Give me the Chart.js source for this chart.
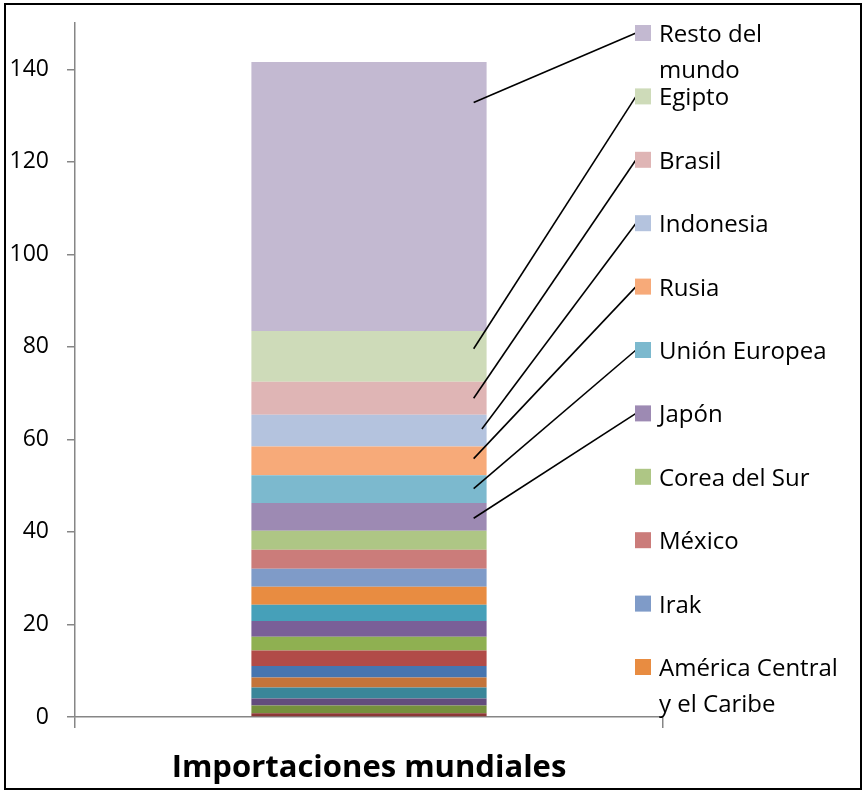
<!DOCTYPE html>
<html>
<head>
<meta charset="utf-8">
<script src="https://cdn.jsdelivr.net/npm/chart.js@4/dist/chart.umd.min.js"></script>
<style>
  body { margin: 0; background: #fff; }
  #wrap { width: 865px; height: 793px; }
</style>
</head>
<body>
<div id="wrap"><canvas id="chart" width="865" height="793"></canvas></div>
<script>
// Category on the x axis
const categories = ["Importaciones mundiales"];

// Stacked series, bottom to top
const seriesNames = [
  "Yemen", "Bangladesh", "Turquía", "Arabia Saudita", "China",
  "Irán", "Nigeria", "Filipinas", "Marruecos", "Argelia",
  "América Central y el Caribe", "Irak", "México", "Corea del Sur", "Japón",
  "Unión Europea", "Rusia", "Indonesia", "Brasil", "Egipto", "Resto del mundo"
];
const seriesValues = [
  0.8, 1.7, 1.5, 2.4, 2.15,
  2.5, 3.3, 3.0, 3.4, 3.5,
  3.9, 3.9, 4.1, 4.1, 6.0,
  6.0, 6.2, 6.9, 7.1, 11.0, 58.1
];
const seriesColors = [
  "#8C3836", "#76903D", "#634C7D", "#3A8699", "#C3743A",
  "#4675B0", "#B14B48", "#8FB051", "#7A5F98", "#46A0B9",
  "#E88C41", "#7F9BC8", "#CB7C7A", "#AEC685", "#9D8AB3",
  "#7CB9CE", "#F7AA79", "#B4C3DE", "#DFB5B5", "#CEDBB9", "#C3B9D1"
];

// Y axis ticks shown
const yTicks = [0, 20, 40, 60, 80, 100, 120, 140];

// Labels drawn on the right (top to bottom), the rest did not fit
const labelSeries = [20, 19, 18, 17, 16, 15, 14, 13, 12, 11, 10];
const labelLines = {
  20: ["Resto del", "mundo"],
  10: ["América Central", "y el Caribe"]
};
// where leader lines hit the segment: [fraction of width, fraction of height]
const leaderAnchors = {
  20: [0.945, 0.85], 19: [0.945, 0.65], 18: [0.945, 0.5], 17: [0.98, 0.55],
  16: [0.945, 0.58], 15: [0.945, 0.52], 14: [0.945, 0.45]
};

const datasets = seriesNames.map((name, i) => ({
  label: name,
  data: [seriesValues[i]],
  backgroundColor: seriesColors[i],
  borderWidth: 0,
  categoryPercentage: 0.4,
  barPercentage: 1
}));

const sideLabels = {
  id: "sideLabels",
  beforeDraw(chart) {
    const ctx = chart.ctx;
    ctx.save();
    ctx.fillStyle = "#fff";
    ctx.fillRect(0, 0, chart.width, chart.height);
    ctx.restore();
  },
  afterDraw(chart) {
    const ctx = chart.ctx;
    ctx.save();
    // outer frame
    ctx.strokeStyle = "#000";
    ctx.lineWidth = 2;
    ctx.strokeRect(5, 4, 856, 785);

    const boxX = 635, boxSize = 16, textX = 659;
    ctx.font = "24px 'Open Sans'";
    ctx.textBaseline = "alphabetic";
    labelSeries.forEach((si, row) => {
      const cy = 33 + row * 63.4;
      if (leaderAnchors[si]) {
        const bar = chart.getDatasetMeta(si).data[0];
        const p = bar.getProps(["x", "y", "base", "width"], true);
        const ax = p.x - p.width / 2 + p.width * leaderAnchors[si][0];
        const ay = p.base + (p.y - p.base) * leaderAnchors[si][1];
        ctx.strokeStyle = "#000";
        ctx.lineWidth = 1.6;
        ctx.beginPath();
        ctx.moveTo(ax, ay);
        ctx.lineTo(boxX + 1, cy);
        ctx.stroke();
      }
      ctx.fillStyle = seriesColors[si];
      ctx.fillRect(boxX, cy - boxSize / 2, boxSize, boxSize);
      ctx.fillStyle = "#000";
      const lines = labelLines[si] || [seriesNames[si]];
      lines.forEach((t, k) => ctx.fillText(t, textX, cy + 9 + k * 36));
    });
    ctx.restore();
  }
};

new Chart(document.getElementById("chart"), {
  type: "bar",
  data: { labels: categories, datasets: datasets },
  options: {
    responsive: false,
    animation: false,
    layout: { padding: { top: 23, right: 202, left: 0, bottom: 0 } },
    plugins: {
      legend: { display: false },
      tooltip: { enabled: false },
      title: { display: false }
    },
    scales: {
      x: {
        stacked: true,
        offset: true,
        border: { display: true, color: "#868686", width: 1.5 },
        grid: {
          offset: true,
          drawOnChartArea: false,
          drawTicks: true,
          tickLength: 11,
          color: "#868686",
          lineWidth: 1.5
        },
        ticks: {
          color: "#000",
          padding: 22,
          font: { family: "'Open Sans'", size: 31, weight: "bold" }
        },
        afterFit: s => { s.height = 76; s.paddingLeft = 0; s.paddingRight = 0; }
      },
      y: {
        stacked: true,
        min: 0,
        max: 150,
        border: { display: true, color: "#868686", width: 1.5 },
        grid: {
          drawOnChartArea: false,
          drawTicks: true,
          tickLength: 8,
          color: "#868686",
          lineWidth: 1.5
        },
        afterBuildTicks: s => {
          s.ticks = yTicks.map(v => ({ value: v }));
        },
        ticks: {
          color: "#000",
          padding: 18,
          font: { family: "'Open Sans'", size: 23 }
        },
        afterFit: s => { s.width = 75; s.paddingTop = 0; s.paddingBottom = 0; }
      }
    }
  },
  plugins: [sideLabels]
});
</script>
</body>
</html>
